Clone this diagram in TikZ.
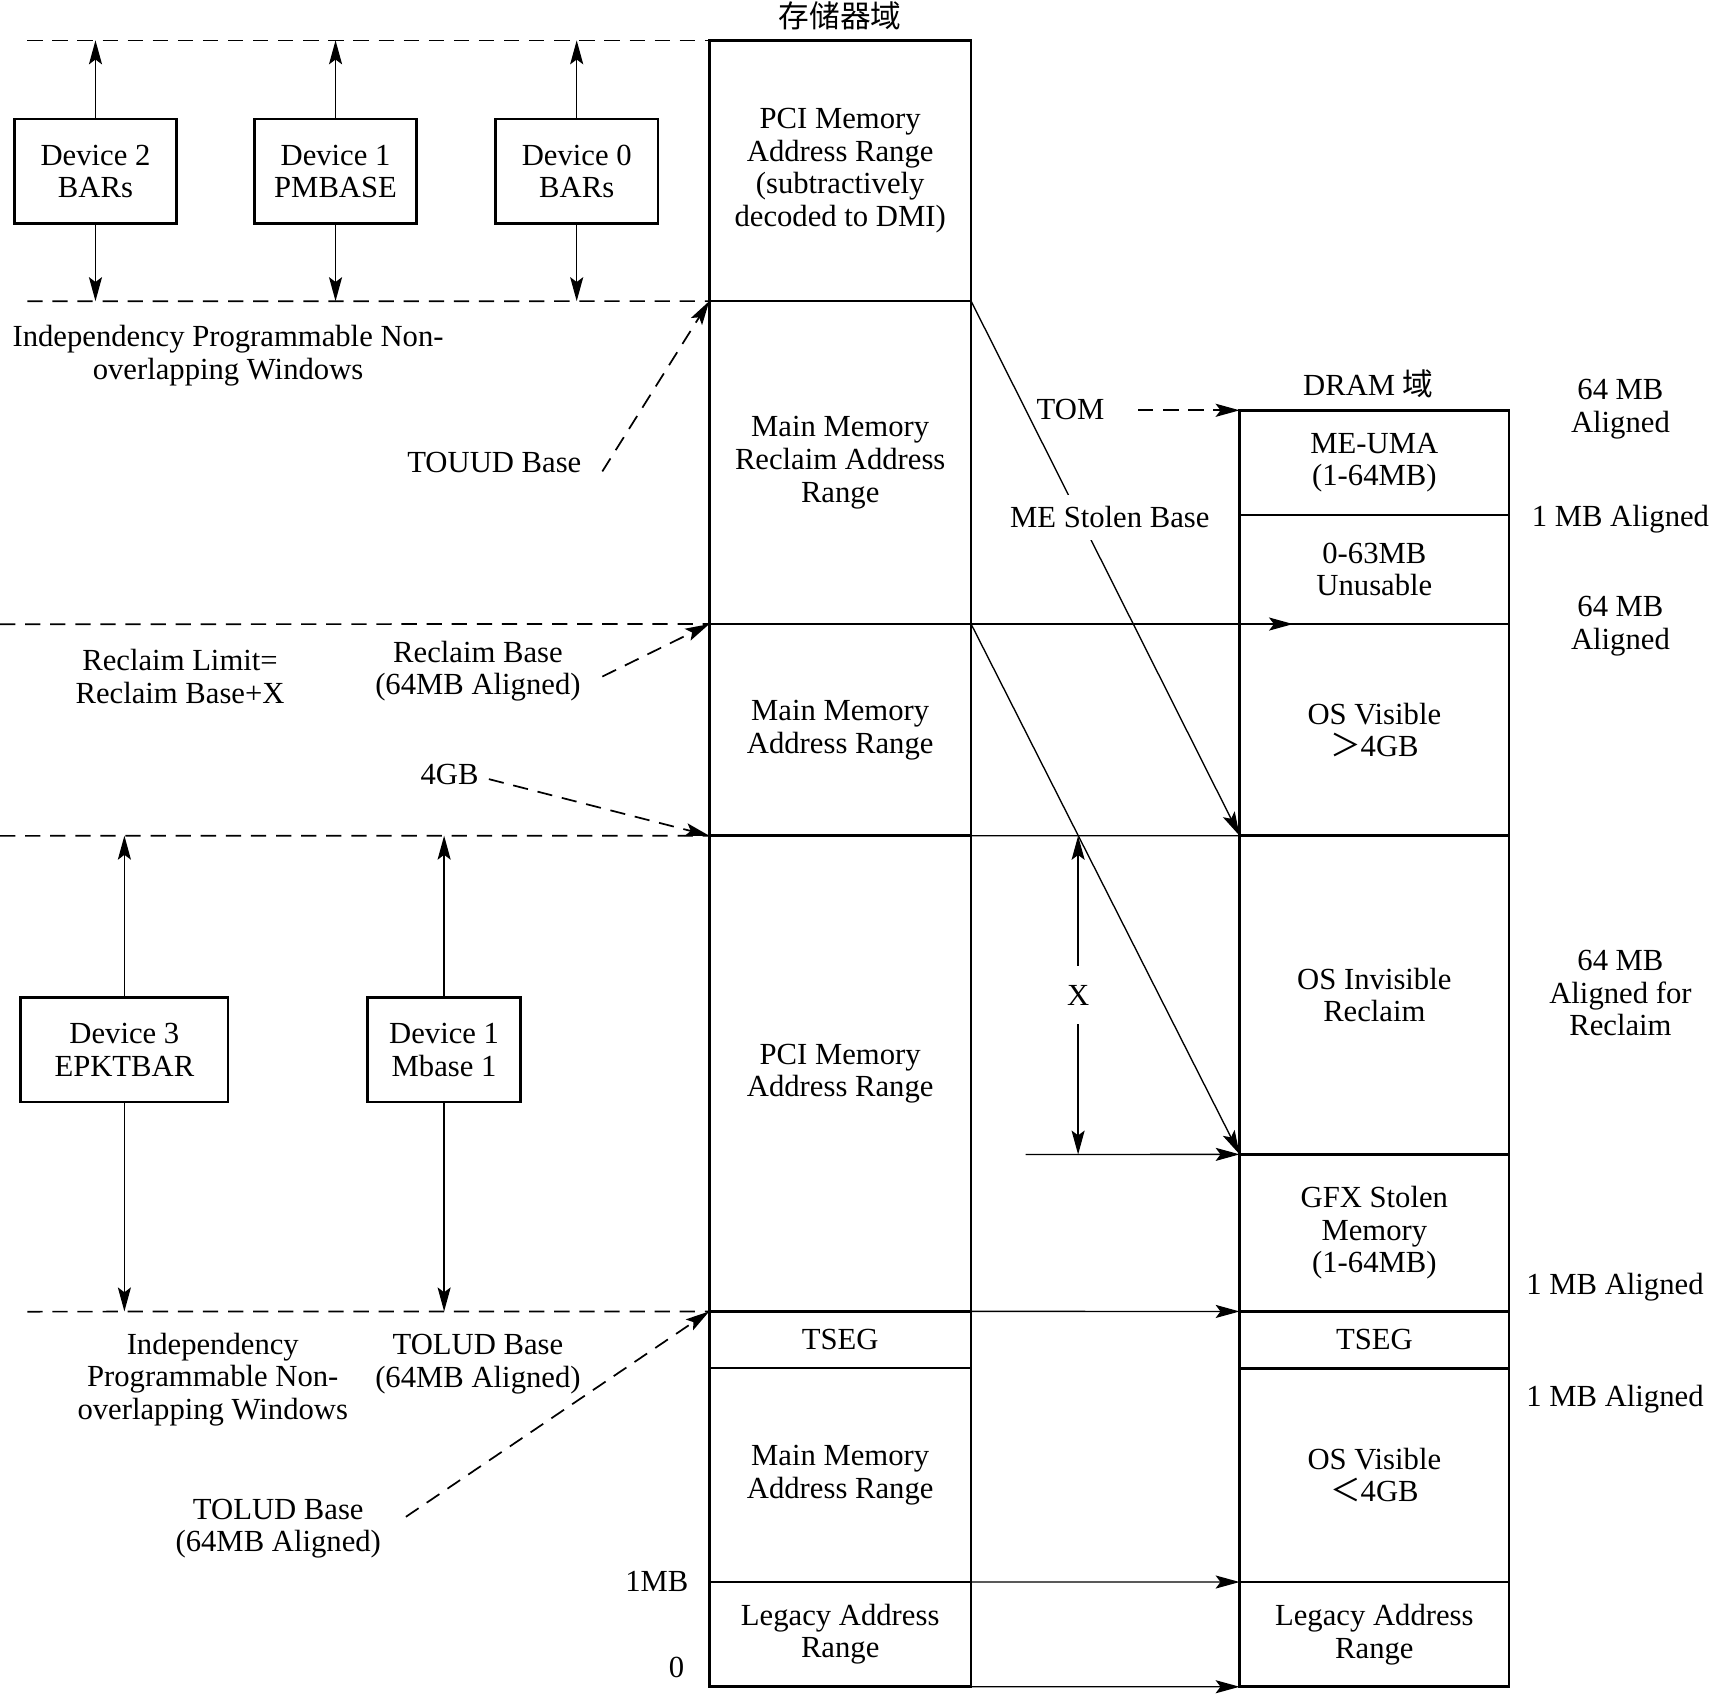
\documentclass[tikz,border=0pt]{standalone}
\usepackage{fontspec}
\setmainfont{Liberation Serif}
\newfontfamily\cjk{Noto Sans CJK SC}
\usepackage{tikz}
\usetikzlibrary{positioning,arrows.meta}

\tikzset{
  cella/.style={draw, line width=1.4pt, minimum width=4.8cm, inner sep=0pt, outer sep=0pt},
  celladram/.style={cella, minimum width=4.94cm},
  dev/.style={draw, line width=1.4pt, minimum height=1.92cm, inner sep=0pt},
  punta/.tip={Stealth[length=4.4mm,width=2.4mm,inset=0.9mm]},
  freccia/.style={-punta, line width=0.7pt},
  tratto/.style={dash pattern=on 2.8mm off 1.8mm, line width=0.9pt},
  trattofreccia/.style={tratto, -punta},
}

\begin{document}
\begin{tikzpicture}[x=0.02cm, y=-0.02cm,
    every node/.style={align=center, font=\fontsize{16}{17}\selectfont}]
  \useasboundingbox (0,0) rectangle (1568,1552);

  % Dominio della memoria
  \node[cella, minimum height=4.78cm, anchor=north west] (pcihi) at (650,37)
    {PCI Memory\\Address Range\\(subtractively\\decoded to DMI)};
  \node[cella, minimum height=5.92cm, below=0pt of pcihi] (reclaim)
    {Main Memory\\Reclaim Address\\Range};
  \node[cella, minimum height=3.88cm, below=0pt of reclaim] (mainhi)
    {Main Memory\\Address Range};
  \node[cella, minimum height=8.72cm, below=0pt of mainhi] (pcilo)
    {PCI Memory\\Address Range};
  \node[cella, minimum height=1.04cm, below=0pt of pcilo] (tsegl) {TSEG};
  \node[cella, minimum height=3.92cm, below=0pt of tsegl] (mainlo)
    {Main Memory\\Address Range};
  \node[cella, minimum height=1.92cm, below=0pt of mainlo] (legl)
    {Legacy Address\\Range};
  \node[above=2pt of pcihi] (titmem) {\cjk 存储器域};

  % Dominio DRAM
  \node[celladram, minimum height=1.92cm, anchor=north west] (meuma) at (1136,376)
    {ME-UMA\\(1-64MB)};
  \node[celladram, minimum height=2.0cm, below=0pt of meuma] (unus)
    {0-63MB\\Unusable};
  \node[celladram, minimum height=3.88cm, below=0pt of unus] (osvhi)
    {OS Visible\\{\cjk ＞}4GB};
  \node[celladram, minimum height=5.84cm, below=0pt of osvhi] (osinv)
    {OS Invisible\\Reclaim};
  \node[celladram, minimum height=2.88cm, below=0pt of osinv] (gfx)
    {GFX Stolen\\Memory\\(1-64MB)};
  \node[celladram, minimum height=1.04cm, below=0pt of gfx] (tsegr) {TSEG};
  \node[celladram, minimum height=3.92cm, below=0pt of tsegr] (osvlo)
    {OS Visible\\{\cjk ＜}4GB};
  \node[celladram, minimum height=1.92cm, below=0pt of osvlo] (legr)
    {Legacy Address\\Range};
  \node (titdram) at (1254,352) {DRAM {\cjk 域}};

  % Linee tratteggiate
  \coordinate (t1) at (25,37);
  \coordinate (t2) at (25,276);
  \coordinate (t3) at (0,572);
  \coordinate (t4) at (0,766);
  \coordinate (t5) at (25,1202);
  \draw[tratto] (t1) -- (pcihi.north west);
  \draw[tratto] (t2) -- (reclaim.north west);
  \draw[tratto] (t3) -- (mainhi.north west);
  \draw[tratto] (t4) -- (pcilo.north west);
  \draw[tratto] (t5) -- (tsegl.north west);

  % Dispositivi
  \node[dev, minimum width=2.98cm] (dev2) at (87.5,157) {Device 2\\BARs};
  \node[dev, minimum width=2.98cm] (dev1) at (307.5,157) {Device 1\\PMBASE};
  \node[dev, minimum width=2.98cm] (dev0) at (528.5,157) {Device 0\\BARs};
  \node[dev, minimum width=3.8cm] (dev3) at (114,962) {Device 3\\EPKTBAR};
  \node[dev, minimum width=2.8cm] (dev1m) at (407,962) {Device 1\\Mbase 1};
  \foreach \d in {dev2,dev1,dev0} {
    \draw[freccia] (\d.north) -- (\d.north |- pcihi.north);
    \draw[freccia] (\d.south) -- (\d.south |- reclaim.north);
  }
  \foreach \d in {dev3,dev1m} {
    \draw[freccia] (\d.north) -- (\d.north |- pcilo.north);
    \draw[freccia] (\d.south) -- (\d.south |- tsegl.north);
  }

  % Etichette a sinistra
  \node (indip1) at (209,326) {Independency Programmable Non-\\overlapping Windows};
  \node (rlimit) at (165,620) {Reclaim Limit=\\Reclaim Base+X};
  \node (rbase) at (438,615) {Reclaim Base\\(64MB Aligned)};
  \node (touud) at (453,424) {TOUUD Base};
  \node (g4) at (412,710) {4GB};
  \node (indip2) at (195,1264) {Independency\\Programmable Non-\\overlapping Windows};
  \node (tolud1) at (438,1250) {TOLUD Base\\(64MB Aligned)};
  \node (tolud2) at (255,1401) {TOLUD Base\\(64MB Aligned)};
  \node (mb1) at (602,1449) {1MB};
  \node (zero) at (620,1528) {0};

  \coordinate (ptouud) at (552,432);
  \coordinate (prbase) at (552,620);
  \coordinate (p4gb) at (448,714);
  \coordinate (ptolud) at (372,1390);
  \draw[trattofreccia] (ptouud) -- (reclaim.north west);
  \draw[trattofreccia] (prbase) -- (mainhi.north west);
  \draw[trattofreccia] (p4gb) -- (pcilo.north west);
  \draw[trattofreccia] (ptolud) -- (tsegl.north west);

  % Collegamenti tra i due domini
  \draw[freccia] (reclaim.north east) -- (osinv.north west);
  \draw[freccia] (mainhi.north east) -- (gfx.north west);
  \draw[freccia] (mainhi.north east) -- ++(295,0);
  \draw[line width=0.7pt] (mainhi.south east) -- (osinv.north west);
  \node (tom) at (981,375) {TOM};
  \coordinate (ptom) at (1043,376);
  \draw[trattofreccia] (ptom) -- (meuma.north west);
  \node[fill=white, inner xsep=1pt, inner ysep=6pt] (mestolen) at (1017,474) {ME Stolen Base};

  \coordinate (xtop) at (988,766);
  \coordinate (xbot) at (988,1058);
  \coordinate (pgfx) at (940,1058);
  \draw[freccia, punta-punta]
    (xtop) -- node[fill=white, inner xsep=2pt, inner ysep=10pt] (xlab) {X} (xbot);
  \draw[freccia] (pgfx) -- (gfx.north west);
  \draw[freccia] (tsegl.north east) -- (tsegr.north west);
  \draw[freccia] (legl.north east) -- (legr.north west);
  \draw[freccia] (legl.south east) -- (legr.south west);

  % Etichette a destra
  \node (al1) at (1485,375) {64 MB\\Aligned};
  \node (al2) at (1485,476) {1 MB Aligned};
  \node (al3) at (1485,574) {64 MB\\Aligned};
  \node (al4) at (1485,910) {64 MB\\Aligned for\\Reclaim};
  \node (al5) at (1480,1180) {1 MB Aligned};
  \node (al6) at (1480,1282) {1 MB Aligned};
\end{tikzpicture}
\end{document}
